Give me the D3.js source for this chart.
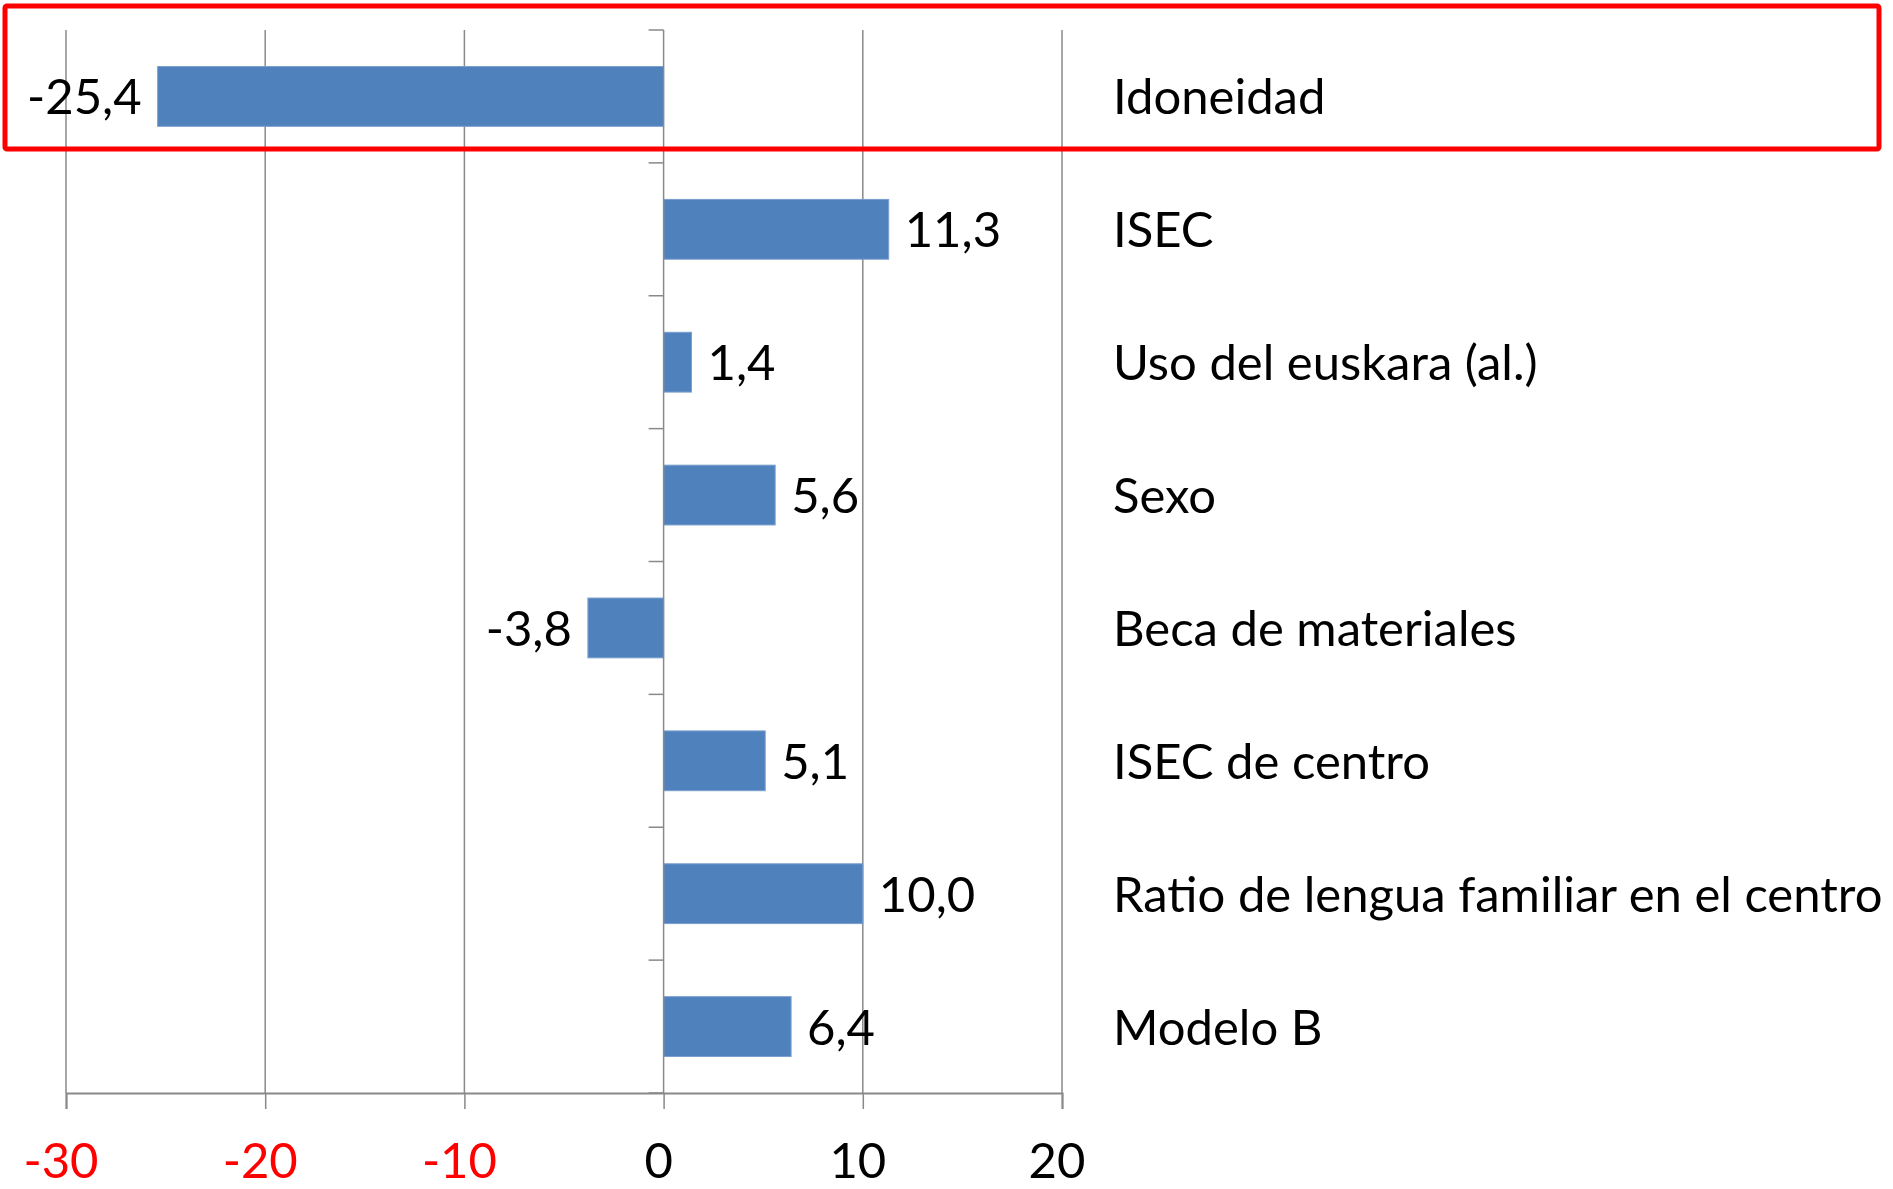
<!DOCTYPE html>
<html>
<head>
<meta charset="utf-8">
<script src="https://cdn.jsdelivr.net/npm/d3@7"></script>
<style>
  body { margin: 0; background: #fff; }
  svg { display: block; }
  text { font-family: Lato, "Open Sans", sans-serif; }
</style>
</head>
<body>
<svg width="1893" height="1189"></svg>
<script>

var categories = ["Idoneidad", "ISEC", "Uso del euskara (al.)", "Sexo", "Beca de materiales",
  "ISEC de centro", "Ratio de lengua familiar en el centro", "Modelo B"];
var values = [-25.4, 11.3, 1.4, 5.6, -3.8, 5.1, 10.0, 6.4];
var xTicks = [-30, -20, -10, 0, 10, 20];

var svg = d3.select("svg"),
  width = +svg.attr("width"),
  height = +svg.attr("height");

var gridColor = "#898989";
var fontSize = 49;

var x = d3.scaleLinear().domain([-30, 20]).range([66, 1062]);
var y = d3.scaleBand().domain(categories).range([30, 1093]).paddingInner(0.55).paddingOuter(0.275);
var band = d3.scaleBand().domain(categories).range([30, 1093]);

// vertical gridlines
svg.append("g")
  .selectAll("line")
  .data(xTicks.filter(function(d) { return d != 0; }))
  .enter().append("line")
  .attr("x1", function(d) { return x(d); })
  .attr("x2", function(d) { return x(d); })
  .attr("y1", 30)
  .attr("y2", 1093)
  .attr("stroke", gridColor)
  .attr("stroke-width", 1.5);

// bars
svg.append("g")
  .selectAll("rect")
  .data(values)
  .enter().append("rect")
  .attr("x", function(d) { return x(Math.min(0, d)); })
  .attr("width", function(d) { return Math.abs(x(d) - x(0)); })
  .attr("y", function(d, i) { return y(categories[i]); })
  .attr("height", y.bandwidth())
  .attr("fill", "#4F81BD")
  .attr("stroke", "#7a9fd0")
  .attr("stroke-width", 1);

// bottom axis
var xAxis = d3.axisBottom(x).tickValues(xTicks).tickSize(16).tickFormat("");
var gx = svg.append("g").attr("transform", "translate(0,1093)").call(xAxis);
gx.select(".domain").attr("stroke", gridColor).attr("stroke-width", 2);
gx.selectAll(".tick line").attr("stroke", gridColor).attr("stroke-width", 1.5);

svg.append("g")
  .selectAll("text")
  .data(xTicks)
  .enter().append("text")
  .attr("x", function(d) { return x(d) - 5; })
  .attr("y", 1178)
  .attr("text-anchor", "middle")
  .attr("font-size", fontSize)
  .attr("fill", function(d) { return d < 0 ? "#ff0000" : "#000"; })
  .text(function(d) { return d; });

// vertical axis at zero with category ticks
svg.append("line")
  .attr("x1", x(0)).attr("x2", x(0))
  .attr("y1", 30).attr("y2", 1093)
  .attr("stroke", gridColor).attr("stroke-width", 1.5);

var bounds = categories.map(function(c) { return band(c); }).concat([1093]);
svg.append("g")
  .selectAll("line")
  .data(bounds)
  .enter().append("line")
  .attr("x1", x(0) - 15).attr("x2", x(0))
  .attr("y1", function(d) { return d; })
  .attr("y2", function(d) { return d; })
  .attr("stroke", gridColor).attr("stroke-width", 1.5);

// value labels
svg.append("g")
  .selectAll("text")
  .data(values)
  .enter().append("text")
  .attr("x", function(d) { return d < 0 ? x(d) - 16 : x(d) + 16; })
  .attr("y", function(d, i) { return band(categories[i]) + band.bandwidth() / 2 + 18; })
  .attr("text-anchor", function(d) { return d < 0 ? "end" : "start"; })
  .attr("font-size", fontSize)
  .text(function(d) { return d3.format(".1f")(d).replace("−", "-").replace(".", ","); });

// category labels
svg.append("g")
  .selectAll("text")
  .data(categories)
  .enter().append("text")
  .attr("x", 1113)
  .attr("y", function(d) { return band(d) + band.bandwidth() / 2 + 18; })
  .attr("font-size", fontSize)
  .text(function(d) { return d; });

// highlight box
svg.append("rect")
  .attr("x", 5).attr("y", 6)
  .attr("width", 1874).attr("height", 143)
  .attr("rx", 2)
  .attr("fill", "none")
  .attr("stroke", "#ff0000")
  .attr("stroke-width", 5);

</script>
</body>
</html>
